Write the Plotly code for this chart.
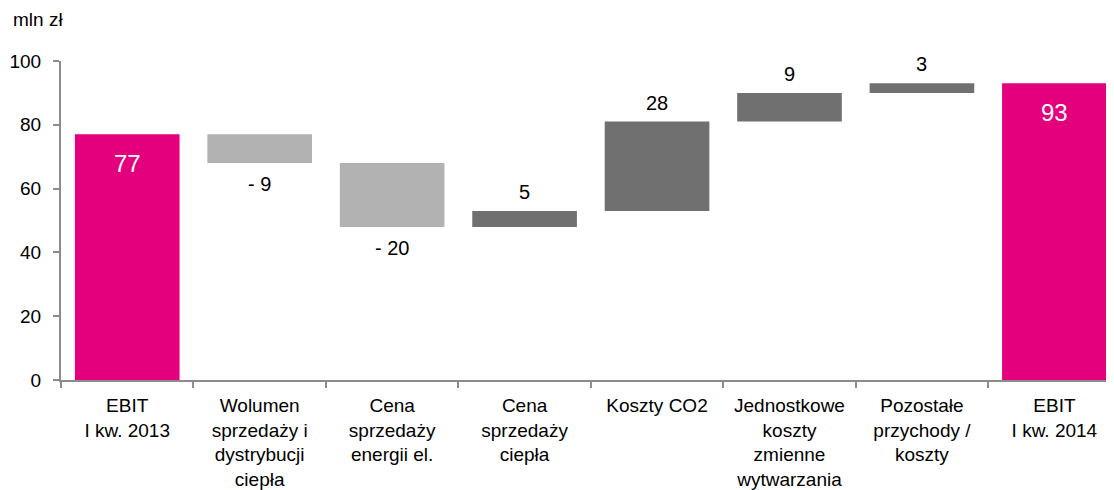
import plotly.graph_objects as go

categories = ["EBIT<br>I kw. 2013", "Wolumen<br>sprzedaży i<br>dystrybucji<br>ciepła",
              "Cena<br>sprzedaży<br>energii el.", "Cena<br>sprzedaży<br>ciepła",
              "Koszty CO2", "Jednostkowe<br>koszty<br>zmienne<br>wytwarzania",
              "Pozostałe<br>przychody /<br>koszty", "EBIT<br>I kw. 2014"]
values = [77, -9, -20, 5, 28, 9, 3, 93]
kinds = ["total", "delta", "delta", "delta", "delta", "delta", "delta", "total"]

MAGENTA = "#E4007C"
LIGHT = "#B2B2B2"
DARK = "#707070"
FONT = "Liberation Sans, Arial, sans-serif"

bases, heights, colors = [], [], []
running = 0
for v, k in zip(values, kinds):
    if k == "total":
        bases.append(0)
        heights.append(v)
        colors.append(MAGENTA)
        running = v
    else:
        bases.append(running)
        heights.append(v)
        colors.append(DARK if v > 0 else LIGHT)
        running += v

fig = go.Figure()
fig.add_trace(go.Bar(x=categories, y=heights, base=bases, marker_color=colors,
                     marker_line_width=0, hoverinfo="skip"))

annotations = []
for c, v, k, b in zip(categories, values, kinds, bases):
    if k == "total":
        annotations.append(dict(x=c, y=v, xref="x", yref="y", text=str(v), showarrow=False,
                                yanchor="top", yshift=-14, font=dict(size=24, color="white", family=FONT)))
    elif v > 0:
        annotations.append(dict(x=c, y=b + v, xref="x", yref="y", text=str(v), showarrow=False,
                                yanchor="bottom", yshift=6, font=dict(size=20, color="black", family=FONT)))
    else:
        annotations.append(dict(x=c, y=b + v, xref="x", yref="y", text="- " + str(abs(v)), showarrow=False,
                                yanchor="top", yshift=-8, font=dict(size=20, color="black", family=FONT)))

annotations.append(dict(x=-50/1053, y=1 + (61 - 20) / 319, xref="paper", yref="paper", text="mln zł",
                        showarrow=False, xanchor="left", yanchor="middle",
                        font=dict(size=19, color="black", family=FONT)))

# the page adds an 8px body margin, so the figure is sized/offset to compensate
fig.update_layout(
    width=1106, height=482,
    margin=dict(l=53, r=0, t=53, b=110),
    plot_bgcolor="white", paper_bgcolor="white",
    bargap=0.21, showlegend=False,
    font=dict(family=FONT, color="black"),
    annotations=annotations,
)
fig.update_xaxes(type="category", range=[-0.5, 7.45], showline=True, linecolor="#8C8C8C", linewidth=2,
                 ticks="outside", tickson="boundaries", ticklen=6, tickwidth=2, tickcolor="#8C8C8C",
                 tickfont=dict(size=19, family=FONT), showgrid=False, ticklabelstandoff=7, automargin=False)
fig.update_yaxes(range=[0, 100], tickvals=[0, 20, 40, 60, 80, 100], showline=True, linecolor="#8C8C8C",
                 linewidth=2, ticks="outside", ticklen=6, tickwidth=2, tickcolor="#8C8C8C",
                 tickfont=dict(size=19, family=FONT), showgrid=False, zeroline=False, ticklabelstandoff=8,
                 automargin=False)

fig.write_html("out.html")
